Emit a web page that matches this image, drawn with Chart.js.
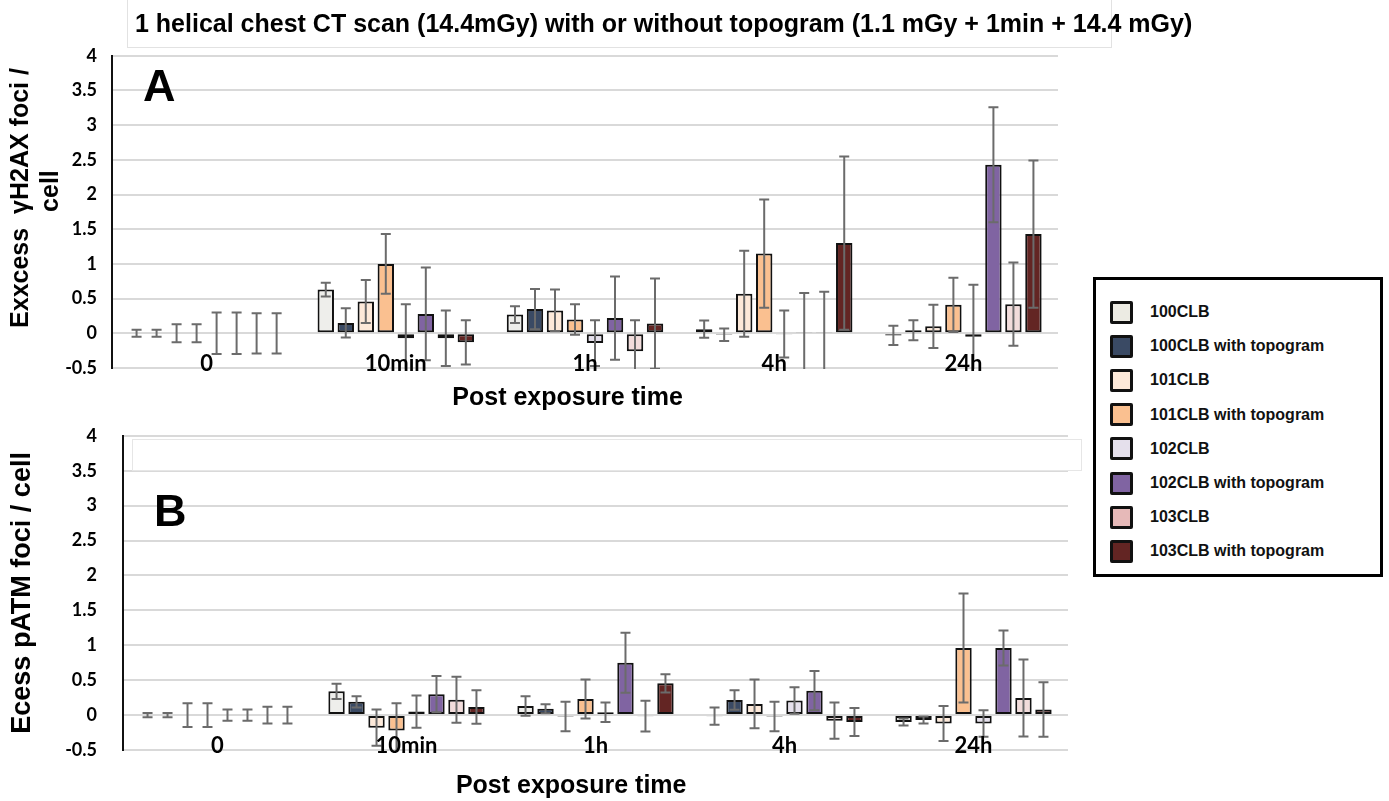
<!DOCTYPE html>
<html>
<head>
<meta charset="utf-8">
<title>Excess foci per cell after chest CT</title>
<script src="https://cdn.jsdelivr.net/npm/chart.js"></script>
<style>
  body { margin: 0; background: #fff; font-family: 'Liberation Sans', Arial, sans-serif; }
  #page { position: relative; width: 1389px; height: 801px; overflow: hidden; }
  canvas { position: absolute; left: 0; }
  #topTitle {
    position: absolute; left: 127px; top: -2px; width: 985px; height: 50px;
    border: 1px solid #e2e2e2; box-sizing: border-box;
    font-weight: bold; font-size: 25px; line-height: 48px; padding-left: 7px;
    white-space: nowrap; overflow: visible; color: #000;
  }
  #boxB {
    position: absolute; left: 132px; top: 439px; width: 950px; height: 32px;
    border: 1px solid #e6e6e6; box-sizing: border-box;
  }
  #legend {
    position: absolute; left: 1093px; top: 277px; width: 290px; height: 300px;
    border: 3px solid #000; box-sizing: border-box; background: #fff;
  }
  .item { position: absolute; left: 14px; height: 24px; display: flex; align-items: center; }
  .sw { width: 23px; height: 23px; border: 3px solid #111; box-sizing: border-box; border-radius: 2px; }
  .lab { margin-left: 17px; font-weight: bold; font-size: 16px; color: #111; white-space: nowrap; }
</style>
</head>
<body>
<div id="page">
  <canvas id="chartA" width="1060" height="390" style="top:30px"></canvas>
  <canvas id="chartB" width="1070" height="402" style="top:399px"></canvas>
  <div id="topTitle">1 helical chest CT scan (14.4mGy) with or without topogram (1.1 mGy + 1min + 14.4 mGy)</div>
  <div id="boxB"></div>
  <div id="legend"></div>
</div>
<script>
// post exposure time points
const categories = ['0', '10min', '1h', '4h', '24h'];
const seriesNames = ['100CLB', '100CLB with topogram', '101CLB', '101CLB with topogram',
                     '102CLB', '102CLB with topogram', '103CLB', '103CLB with topogram'];
const yTicks = [-0.5, 0, 0.5, 1, 1.5, 2, 2.5, 3, 3.5, 4];

// panel A: excess gamma-H2AX foci / cell, one row per series (same order as seriesNames)
const h2axMeans = [
  [0, 0.63, 0.27, 0.06, -0.03],
  [0, 0.15, 0.35, -0.02, 0.045],
  [0, 0.46, 0.33, 0.57, 0.10],
  [0, 1.00, 0.20, 1.15, 0.41],
  [0, -0.07, -0.14, -0.01, -0.05],
  [0, 0.28, 0.22, 0.02, 2.43],
  [0, -0.07, -0.26, 0.02, 0.42],
  [0, -0.13, 0.14, 1.30, 1.43]
];
const h2axErrors = [
  [0.05, 0.10, 0.12, 0.125, 0.14],
  [0.05, 0.21, 0.29, 0.09, 0.145],
  [0.13, 0.31, 0.30, 0.62, 0.31],
  [0.13, 0.43, 0.22, 0.78, 0.39],
  [0.30, 0.49, 0.33, 0.34, 0.75],
  [0.30, 0.67, 0.60, 0.56, 0.83],
  [0.29, 0.40, 0.45, 0.58, 0.60],
  [0.29, 0.32, 0.65, 1.25, 1.06]
];

// panel B: excess pATM foci / cell
const patmMeans = [
  [0, 0.34, 0.13, -0.015, -0.10],
  [0, 0.19, 0.09, 0.215, -0.07],
  [0, -0.18, -0.02, 0.16, -0.12],
  [0, -0.22, 0.23, -0.02, 0.96],
  [0, 0.05, 0.04, 0.21, -0.12],
  [0, 0.30, 0.75, 0.35, 0.96],
  [0, 0.22, -0.015, -0.08, 0.245],
  [0, 0.115, 0.455, -0.10, 0.08]
];
const patmErrors = [
  [0.03, 0.11, 0.14, 0.125, 0.05],
  [0.03, 0.08, 0.065, 0.14, 0.05],
  [0.17, 0.26, 0.21, 0.35, 0.25],
  [0.17, 0.39, 0.28, 0.21, 0.78],
  [0.08, 0.23, 0.14, 0.19, 0.19],
  [0.08, 0.26, 0.43, 0.28, 0.25],
  [0.12, 0.33, 0.22, 0.26, 0.55],
  [0.12, 0.24, 0.13, 0.20, 0.39]
];

const barColors = ['#EEEEEB', '#3A4A64', '#FDE9D9', '#FAC090', '#E5E0EC', '#8064A2', '#F2DCDB', '#632523'];
const legendColors = ['#ECEBE3', '#3A4A64', '#FDE9D9', '#FAC090', '#E5E0EC', '#8064A2', '#E6B9B8', '#632523'];

Chart.defaults.font.family = "'Liberation Sans', Arial, sans-serif";
Chart.defaults.color = '#000';

// error bars, drawn over the bars and clipped to the plot
const errorBars = {
  id: 'errorBars',
  afterDatasetsDraw(chart) {
    const { ctx, chartArea } = chart;
    const y = chart.scales.y;
    ctx.save();
    ctx.beginPath();
    ctx.rect(chartArea.left, chartArea.top, chartArea.right - chartArea.left, chartArea.bottom - chartArea.top + 1);
    ctx.clip();
    ctx.strokeStyle = '#6b6b6b';
    ctx.lineWidth = 2;
    chart.data.datasets.forEach((ds, i) => {
      chart.getDatasetMeta(i).data.forEach((bar, j) => {
        const v = ds.data[j], e = ds.errors[j];
        const top = y.getPixelForValue(v + e);
        const bot = y.getPixelForValue(v - e);
        ctx.beginPath();
        ctx.moveTo(bar.x, top); ctx.lineTo(bar.x, bot);
        ctx.moveTo(bar.x - 5, top); ctx.lineTo(bar.x + 5, top);
        ctx.moveTo(bar.x - 5, bot); ctx.lineTo(bar.x + 5, bot);
        ctx.stroke();
      });
    });
    ctx.restore();
  }
};

// category labels sit just above the bottom of the plot, plus the panel letter
const insideLabels = {
  id: 'insideLabels',
  afterDatasetsDraw(chart, args, opts) {
    const { ctx, chartArea } = chart;
    const x = chart.scales.x, y = chart.scales.y;
    ctx.save();
    ctx.fillStyle = '#000';
    ctx.font = "bold 22px Lato, 'Liberation Sans', sans-serif";
    ctx.textAlign = 'center';
    ctx.textBaseline = 'middle';
    const ly = y.getPixelForValue(y.min) - 4;
    chart.data.labels.forEach((lab, i) => ctx.fillText(lab, x.getPixelForTick(i), ly));
    ctx.font = "bold 45px 'Liberation Sans', Arial, sans-serif";
    ctx.textAlign = 'left';
    ctx.textBaseline = 'alphabetic';
    ctx.fillText(opts.letter, chartArea.left + 31, chartArea.top + opts.letterDrop);
    ctx.restore();
  }
};

function makeChart(id, means, errors, p) {
  return new Chart(document.getElementById(id), {
    type: 'bar',
    data: {
      labels: categories,
      datasets: seriesNames.map((name, i) => ({
        label: name,
        data: means[i],
        errors: errors[i],
        backgroundColor: barColors[i],
        borderColor: '#111',
        borderWidth: 2,
        borderSkipped: false,
        categoryPercentage: 0.846,
        barPercentage: 0.82
      }))
    },
    options: {
      responsive: false,
      animation: false,
      events: [],
      layout: { padding: { left: 0, right: 2, top: 0, bottom: 0 } },
      plugins: {
        legend: { display: false },
        tooltip: { enabled: false },
        insideLabels: { letter: p.letter, letterDrop: p.letterDrop }
      },
      scales: {
        x: {
          grid: { display: false, drawTicks: false },
          border: { display: false },
          ticks: { display: false },
          title: {
            display: true,
            text: p.xTitle,
            font: { size: 25, weight: 'bold' },
            padding: { top: 0, bottom: p.xTitlePad }
          },
          afterFit(scale) { scale.height = p.xHeight; }
        },
        y: {
          min: -0.5,
          max: 4,
          afterBuildTicks(scale) { scale.ticks = yTicks.map(v => ({ value: v })); },
          grid: { color: '#d9d9d9', lineWidth: 2, drawTicks: false },
          border: { display: true, color: '#111', width: 2 },
          ticks: {
            padding: p.tickPad,
            callback: v => String(v),
            font: { family: "Lato, 'Liberation Sans', sans-serif", size: 18, weight: 'bold' }
          },
          title: {
            display: true,
            text: p.yTitle,
            font: { size: p.yTitleSize, weight: 'bold' },
            lineHeight: 1.3,
            padding: { top: p.yTitlePad, bottom: 0 }
          },
          afterFit(scale) { scale.width = p.yWidth; }
        }
      }
    },
    plugins: [errorBars, insideLabels]
  });
}

makeChart('chartA', h2axMeans, h2axErrors, {
  yTitle: ['    Exxcess  \u03b3H2AX foci /', '      cell'], yTitleSize: 25, yTitlePad: 6,
  yWidth: 112, tickPad: 15, xTitle: 'Post exposure time     ', xTitlePad: 7, xHeight: 52,
  letter: 'A', letterDrop: 45
});
makeChart('chartB', patmMeans, patmErrors, {
  yTitle: 'Ecess pATM foci / cell', yTitleSize: 27, yTitlePad: 6,
  yWidth: 123, tickPad: 26, xTitle: 'Post exposure time       ', xTitlePad: 0, xHeight: 51,
  letter: 'B', letterDrop: 90
});

// legend box between the two panels
const legend = document.getElementById('legend');
seriesNames.forEach((name, i) => {
  const row = document.createElement('div');
  row.className = 'item';
  row.style.top = (20 + i * 34.2) + 'px';
  row.innerHTML = '<div class="sw" style="background:' + legendColors[i] + '"></div><span class="lab">' + name + '</span>';
  legend.appendChild(row);
});
</script>
</body>
</html>
